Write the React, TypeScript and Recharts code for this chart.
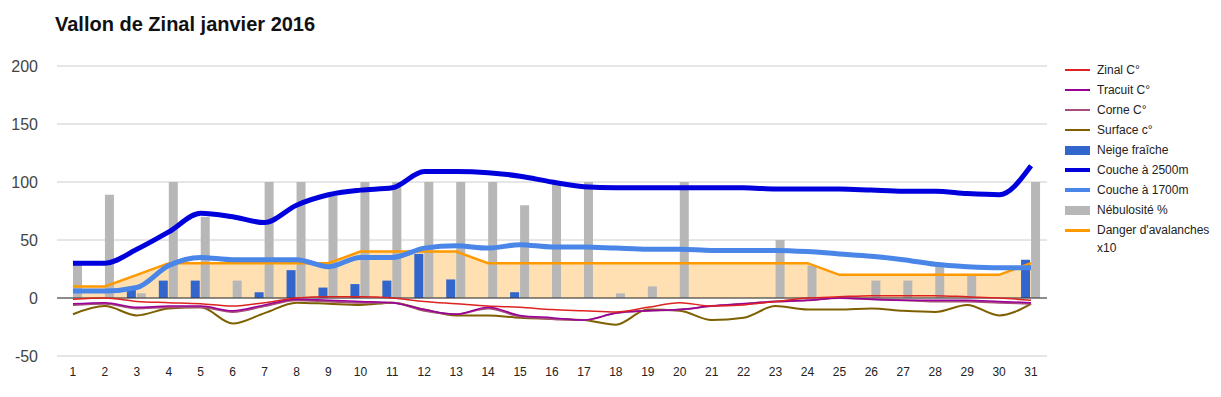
import {
  ComposedChart,
  Line,
  Bar,
  Area,
  XAxis,
  YAxis,
  CartesianGrid,
  ReferenceLine,
  Legend,
} from 'recharts';

const days = ['1', '2', '3', '4', '5', '6', '7', '8', '9', '10', '11', '12', '13', '14', '15', '16',
  '17', '18', '19', '20', '21', '22', '23', '24', '25', '26', '27', '28', '29', '30', '31'];

const zinal = [-1, 0, -3, -4, -5, -7, -4, 0, 1, 1, 0, -3, -5, -7, -8, -10,
  -11, -12, -8, -4, -7, -6, -3, 0, 1, 2, 2, 2, 1, 0, -2];
const tracuit = [-5, -4, -8, -7, -7, -11, -6, -1, -2, -3, -4, -10, -14, -8, -15, -17,
  -19, -13, -11, -10, -7, -5, -3, -2, 0, -1, -2, -2, -2, -3, -4];
const corne = [-6, -5, -9, -8, -8, -12, -7, -2, -3, -4, -4, -11, -14, -9, -16, -18,
  -19, -13, -11, -10, -7, -5, -3, -2, 0, -1, -2, -3, -3, -4, -5];
const surface = [-14, -7, -15, -9, -8, -22, -13, -4, -5, -6, -4, -10, -15, -15, -17, -18,
  -19, -23, -10, -11, -19, -17, -7, -10, -10, -9, -11, -12, -6, -15, -5];
const neige = [0, 0, 8, 15, 15, 0, 5, 24, 9, 12, 15, 38, 16, 0, 5, 0,
  0, 0, 0, 0, 0, 0, 0, 0, 0, 0, 0, 0, 0, 0, 33];
const couche2500 = [30, 30, 42, 57, 73, 70, 65, 80, 89, 93, 95, 109, 109, 108, 105, 100,
  96, 95, 95, 95, 95, 95, 94, 94, 94, 93, 92, 92, 90, 89, 114];
const couche1700 = [6, 6, 9, 28, 35, 33, 33, 33, 27, 35, 35, 43, 45, 43, 46, 44,
  44, 43, 42, 42, 41, 41, 41, 40, 38, 36, 33, 29, 27, 26, 26];
const nebulosite = [30, 89, 4, 100, 70, 15, 100, 100, 88, 100, 100, 100, 100, 100, 80, 100,
  100, 4, 10, 100, 0, 0, 50, 28, 0, 15, 15, 28, 20, 0, 100];
const danger = [10, 10, 20, 30, 30, 30, 30, 30, 30, 40, 40, 40, 40, 30, 30, 30,
  30, 30, 30, 30, 30, 30, 30, 30, 20, 20, 20, 20, 20, 20, 30];

const yTicks = [-50, 0, 50, 100, 150, 200];

const data = days.map((day, i) => ({
  day,
  zinal: zinal[i],
  tracuit: tracuit[i],
  corne: corne[i],
  surface: surface[i],
  neige: neige[i],
  couche2500: couche2500[i],
  couche1700: couche1700[i],
  nebulosite: nebulosite[i],
  danger: danger[i],
  dangerFill: danger[i],
}));

const legendOrder = ['zinal', 'tracuit', 'corne', 'surface', 'neige', 'couche2500', 'couche1700', 'nebulosite', 'danger'];
const markerHeight: Record<string, number> = {
  zinal: 1.5,
  tracuit: 1.5,
  corne: 2.5,
  surface: 2.5,
  neige: 9,
  couche2500: 4,
  couche1700: 4,
  nebulosite: 9,
  danger: 3,
};

const font = 'Arial, "Liberation Sans", sans-serif';

function LegendContent({ payload }: any) {
  const items = legendOrder
    .map((k) => (payload || []).find((p: any) => p.dataKey === k))
    .filter(Boolean);
  return (
    <div style={{ fontFamily: font, fontSize: 12, color: '#222' }}>
      {items.map((entry: any) => (
        <div key={entry.dataKey} style={{ display: 'flex', alignItems: 'flex-start', minHeight: 20 }}>
          <div style={{ width: 25, height: 18, marginLeft: 3, marginRight: 7, display: 'flex', alignItems: 'center', flexShrink: 0 }}>
            <div style={{ width: 25, height: markerHeight[entry.dataKey], background: entry.color }} />
          </div>
          <div style={{ lineHeight: '18px', width: 120 }}>{entry.value}</div>
        </div>
      ))}
    </div>
  );
}

export default function App() {
  return (
    <div style={{ position: 'absolute', left: 0, top: 0, width: 1221, height: 397, background: '#fff' }}>
      <div
        style={{
          position: 'absolute',
          left: 55,
          top: 13,
          fontFamily: font,
          fontWeight: 'bold',
          fontSize: 20,
          color: '#111',
          whiteSpace: 'nowrap',
        }}
      >
        Vallon de Zinal janvier 2016
      </div>
      <ComposedChart
        width={1221}
        height={397}
        data={data}
        margin={{ top: 66, right: 174, left: 10, bottom: 11 }}
        barSize={9}
        barGap={1}
      >
        <CartesianGrid vertical={false} stroke="#ccc" />
        <XAxis
          dataKey="day"
          axisLine={false}
          tickLine={false}
          tickSize={0}
          tickMargin={11}
          height={30}
          interval={0}
          tick={{ fill: '#222', fontSize: 12, fontFamily: font }}
        />
        <YAxis
          domain={[-50, 200]}
          ticks={yTicks}
          axisLine={false}
          tickLine={false}
          tickSize={0}
          tickMargin={19}
          width={47}
          tick={{ fill: '#444', fontSize: 16, fontFamily: font }}
        />
        <Area
          dataKey="dangerFill"
          type="linear"
          stroke="none"
          fill="#ff9900"
          fillOpacity={0.3}
          legendType="none"
          isAnimationActive={false}
        />
        <Bar dataKey="neige" name="Neige fraîche" fill="#3366cc" isAnimationActive={false} />
        <Bar dataKey="nebulosite" name="Nébulosité %" fill="#b7b7b7" isAnimationActive={false} />
        <ReferenceLine y={0} stroke="#333" strokeWidth={1} />
        <Line dataKey="danger" name="Danger d'avalanches x10" type="linear" stroke="#ff9900" strokeWidth={2.5} dot={false} isAnimationActive={false} />
        <Line dataKey="couche2500" name="Couche à 2500m" type="monotone" stroke="#0000dd" strokeWidth={5} dot={false} isAnimationActive={false} />
        <Line dataKey="couche1700" name="Couche à 1700m" type="monotone" stroke="#4a86e8" strokeWidth={5} dot={false} isAnimationActive={false} />
        <Line dataKey="surface" name="Surface c°" type="monotone" stroke="#7f6000" strokeWidth={2} dot={false} isAnimationActive={false} />
        <Line dataKey="corne" name="Corne C°" type="monotone" stroke="#a64d79" strokeWidth={2} dot={false} isAnimationActive={false} />
        <Line dataKey="tracuit" name="Tracuit C°" type="monotone" stroke="#990099" strokeWidth={1.5} dot={false} isAnimationActive={false} />
        <Line dataKey="zinal" name="Zinal C°" type="monotone" stroke="#dd2222" strokeWidth={1.5} dot={false} isAnimationActive={false} />
        <Legend
          layout="vertical"
          align="center"
          verticalAlign="middle"
          content={<LegendContent />}
          wrapperStyle={{ left: 1062, top: 61, width: 159 }}
        />
      </ComposedChart>
    </div>
  );
}
